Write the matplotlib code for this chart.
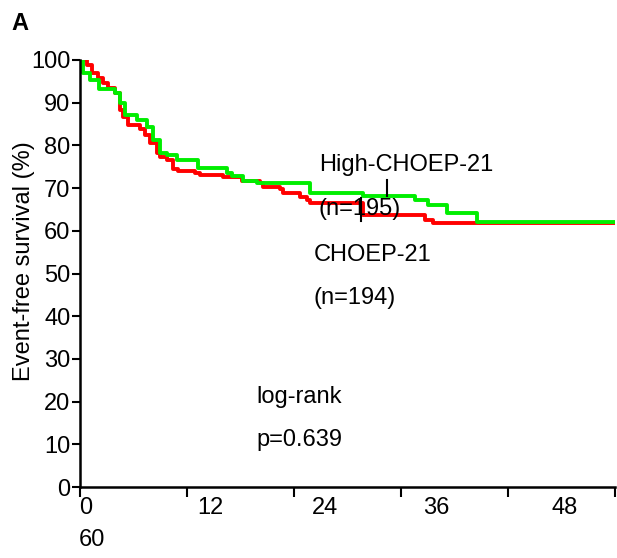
import matplotlib
matplotlib.use('Agg')
import matplotlib.pyplot as plt

plt.rcParams['font.family'] = ['Liberation Sans', 'DejaVu Sans']

# step data: months, event-free survival (%)
high_t = [0, 0.3, 1.1, 2.1, 3.9, 4.5, 5.0, 6.4, 7.5, 8.2, 9.0, 9.8, 10.9, 13.2,
          16.5, 17.0, 18.3, 19.8, 25.8, 31.7, 37.6, 39.0, 41.1, 44.5, 60]
high_s = [100, 97.0, 95.3, 93.2, 92.3, 89.9, 87.1, 86.0, 84.3, 81.3, 78.2, 77.7, 76.6, 74.7,
          73.5, 72.8, 71.7, 71.2, 68.9, 68.1, 67.2, 66.0, 64.2, 62.1, 62.1]

std_t = [0, 0.8, 1.3, 2.0, 2.6, 3.1, 3.9, 4.5, 4.8, 5.4, 6.7, 7.3, 7.8, 8.6, 9.0, 9.8,
         10.4, 11.0, 12.9, 13.5, 16.0, 18.2, 20.2, 20.5, 22.4, 22.8, 24.7, 25.4, 25.8,
         31.7, 38.7, 39.6, 60]
std_s = [100, 98.8, 97.0, 95.8, 94.6, 93.4, 92.3, 88.3, 86.7, 84.8, 83.8, 82.4, 80.6, 78.2, 77.3, 76.6,
         74.5, 74.0, 73.5, 73.1, 72.6, 71.7, 71.2, 70.3, 69.8, 68.9, 67.9, 67.2, 66.5,
         63.7, 62.5, 61.8, 61.8]

x_ticks = [0, 12, 24, 36, 48, 60]
x_tick_labels = ['0', '12', '24', '36', '48']
# labels in the original are drawn a bit off their ticks
x_label_pos = [0.6, 14.6, 27.5, 40.0, 54.4]
y_ticks = list(range(0, 101, 10))

FS = 17

fig = plt.figure(figsize=(6.17, 5.58), dpi=100)
ax = fig.add_axes([0.1297, 0.1272, 0.8671, 0.7653])

ax.step(std_t, std_s, where='post', color='#ff0000', lw=2.8, zorder=3)
ax.step(high_t, high_s, where='post', color='#00ee00', lw=2.8, zorder=4)

ax.set_xlim(0, 60)
ax.set_ylim(0, 100)
for side in ['top', 'right']:
    ax.spines[side].set_visible(False)
for side in ['left', 'bottom']:
    ax.spines[side].set_linewidth(1.8)
    ax.spines[side].set_zorder(5)

ax.set_yticks(y_ticks)
ax.set_yticklabels([str(v) for v in y_ticks], fontsize=FS)
ax.tick_params(axis='y', length=6, width=1.5, pad=1)
ax.set_xticks(x_ticks)
ax.set_xticklabels([])
ax.tick_params(axis='x', length=7, width=1.5)

for pos, lab in zip(x_label_pos, x_tick_labels):
    ax.text(pos, -5.0, lab, fontsize=FS, ha='center', va='center')
ax.text(1.3, -12.5, '60', fontsize=FS, ha='center', va='center', clip_on=False)

ax.set_ylabel('Event-free survival (%)', fontsize=FS)
ax.yaxis.set_label_coords(-0.085, 0.53)

# group labels with their small marker lines
ax.text(26.8, 75.4, 'High-CHOEP-21', fontsize=FS, va='center')
ax.text(26.7, 65.1, '(n=195)', fontsize=FS, va='center')
ax.plot([34.4, 34.4], [68.1, 71.9], color='black', lw=1.5, zorder=6)
ax.text(26.2, 54.3, 'CHOEP-21', fontsize=FS, va='center')
ax.text(26.2, 44.3, '(n=194)', fontsize=FS, va='center')
ax.plot([31.5, 31.5], [62.3, 67.7], color='black', lw=1.5, zorder=6)

ax.text(19.8, 21.1, 'log-rank', fontsize=FS, va='center')
ax.text(19.8, 11.0, 'p=0.639', fontsize=FS, va='center')

fig.text(0.018, 0.958, 'A', fontsize=FS, fontweight='bold', va='center')

fig.savefig('out.png', dpi=100)
